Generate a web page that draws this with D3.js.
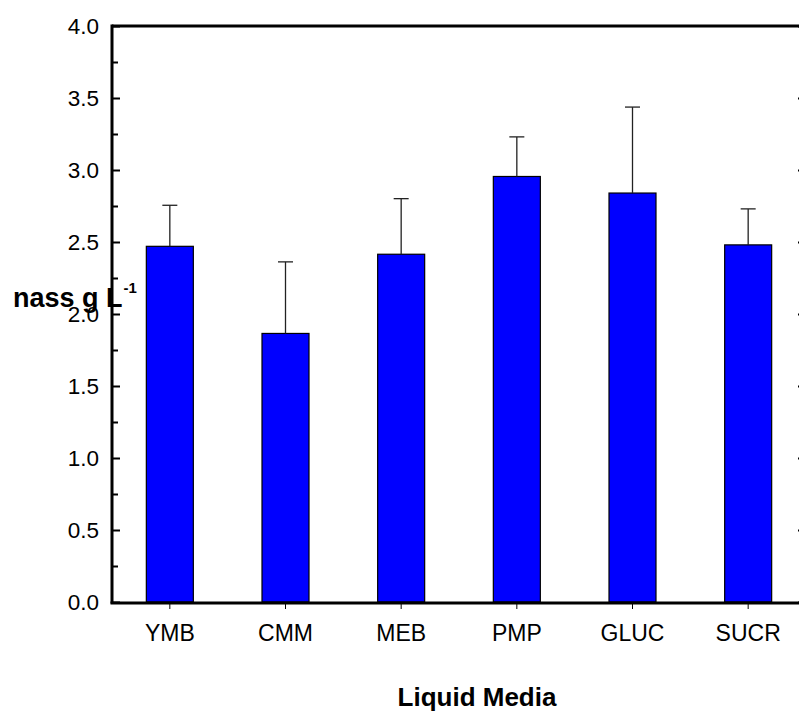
<!DOCTYPE html>
<html>
<head>
<meta charset="utf-8">
<script src="https://cdn.jsdelivr.net/npm/d3@7"></script>
<style>
  html, body { margin: 0; padding: 0; background: #fff; }
  svg { display: block; }
  text { font-family: "Liberation Sans", Arial, Helvetica, sans-serif; fill: #000; }
</style>
</head>
<body>
<svg id="chart" width="799" height="711"></svg>
<script>
// Biomass yield for each liquid medium (mean and error)
const media = ["YMB", "CMM", "MEB", "PMP", "GLUC", "SUCR"];
const biomass = [2.47, 1.865, 2.415, 2.955, 2.84, 2.48];
const errors = [0.285, 0.497, 0.386, 0.275, 0.597, 0.25];
const majorTicks = [0, 0.5, 1, 1.5, 2, 2.5, 3, 3.5, 4];
const minorTicks = [0.25, 0.75, 1.25, 1.75, 2.25, 2.75, 3.25, 3.75];

const svg = d3.select("#chart");
const plotLeft = 112, plotRight = 806, plotTop = 26, plotBottom = 602;
const step = (plotRight - plotLeft) / media.length;
const barW = 47;

const x = d3.scaleBand()
  .domain(media)
  .range([plotLeft, plotLeft + step * media.length])
  .paddingInner(1 - barW / step)
  .paddingOuter((1 - barW / step) / 2);

const y = d3.scaleLinear().domain([0, 4]).range([plotBottom, plotTop]);

// Bars
svg.append("g").selectAll("rect")
  .data(media)
  .join("rect")
  .attr("x", d => x(d))
  .attr("y", (d, i) => y(biomass[i]))
  .attr("width", x.bandwidth())
  .attr("height", (d, i) => y(0) - y(biomass[i]))
  .attr("fill", "#0000ff")
  .attr("stroke", "#000")
  .attr("stroke-width", 1.2);

// Upper error bars
const eb = svg.append("g").attr("stroke", "#222").attr("stroke-width", 1.3);
media.forEach((m, i) => {
  const cx = x(m) + x.bandwidth() / 2;
  eb.append("line")
    .attr("x1", cx).attr("x2", cx)
    .attr("y1", y(biomass[i])).attr("y2", y(biomass[i] + errors[i]));
  eb.append("line")
    .attr("x1", cx - 7.5).attr("x2", cx + 7.5)
    .attr("y1", y(biomass[i] + errors[i])).attr("y2", y(biomass[i] + errors[i]));
});

// Left axis: minor and major ticks pointing inward
const yMinor = d3.axisLeft(y).tickValues(minorTicks).tickSize(-6).tickFormat("");
const yMajor = d3.axisLeft(y).tickValues(majorTicks).tickSize(-8).tickPadding(13)
  .tickFormat(d3.format(".1f"));

const gyMinor = svg.append("g").attr("transform", `translate(${plotLeft},0)`).call(yMinor);
const gyMajor = svg.append("g").attr("transform", `translate(${plotLeft},0)`).call(yMajor);
[gyMinor, gyMajor].forEach(g => {
  g.select(".domain").remove();
  g.selectAll(".tick line").attr("stroke", "#000").attr("stroke-width", 2);
});
gyMajor.selectAll(".tick text")
  .attr("font-size", 22.5)
  .style("font-family", "'Liberation Sans', Arial, sans-serif");

// Right axis (mirrored ticks)
const yRight = d3.axisRight(y).tickValues(majorTicks).tickSize(-8).tickFormat("");
const gyRight = svg.append("g").attr("transform", `translate(${plotRight},0)`).call(yRight);
gyRight.select(".domain").remove();
gyRight.selectAll(".tick line").attr("stroke", "#000").attr("stroke-width", 2);

// Bottom axis
const xAxis = d3.axisBottom(x).tickSize(6).tickSizeOuter(0).tickPadding(16);
const gx = svg.append("g").attr("transform", `translate(0,${plotBottom + 1})`).call(xAxis);
gx.select(".domain").remove();
gx.selectAll(".tick line").attr("stroke", "#000").attr("stroke-width", 1);
gx.selectAll(".tick text")
  .attr("font-size", 23)
  .style("font-family", "'Liberation Sans', Arial, sans-serif");

// Frame lines
const frame = svg.append("g").attr("stroke", "#000").attr("stroke-width", 3).attr("fill", "none");
frame.append("line").attr("x1", plotLeft).attr("x2", plotLeft).attr("y1", plotTop - 1.5).attr("y2", plotBottom + 1.5);
frame.append("line").attr("x1", plotLeft).attr("x2", plotRight).attr("y1", plotTop).attr("y2", plotTop);
frame.append("line").attr("x1", plotLeft - 1.5).attr("x2", plotRight).attr("y1", plotBottom + 1).attr("y2", plotBottom + 1);
frame.append("line").attr("x1", plotRight).attr("x2", plotRight).attr("y1", plotTop).attr("y2", plotBottom + 1);

// Axis titles
svg.append("text")
  .attr("x", 477).attr("y", 706)
  .attr("text-anchor", "middle")
  .attr("font-size", 26).attr("font-weight", "bold")
  .text("Liquid Media");

const yTitle = svg.append("text")
  .attr("x", 13).attr("y", 307)
  .attr("font-size", 27).attr("font-weight", "bold");
yTitle.append("tspan").text("nass g L");
yTitle.append("tspan").attr("dx", 1).attr("dy", -14).attr("font-size", 15).text("-1");
</script>
</body>
</html>
